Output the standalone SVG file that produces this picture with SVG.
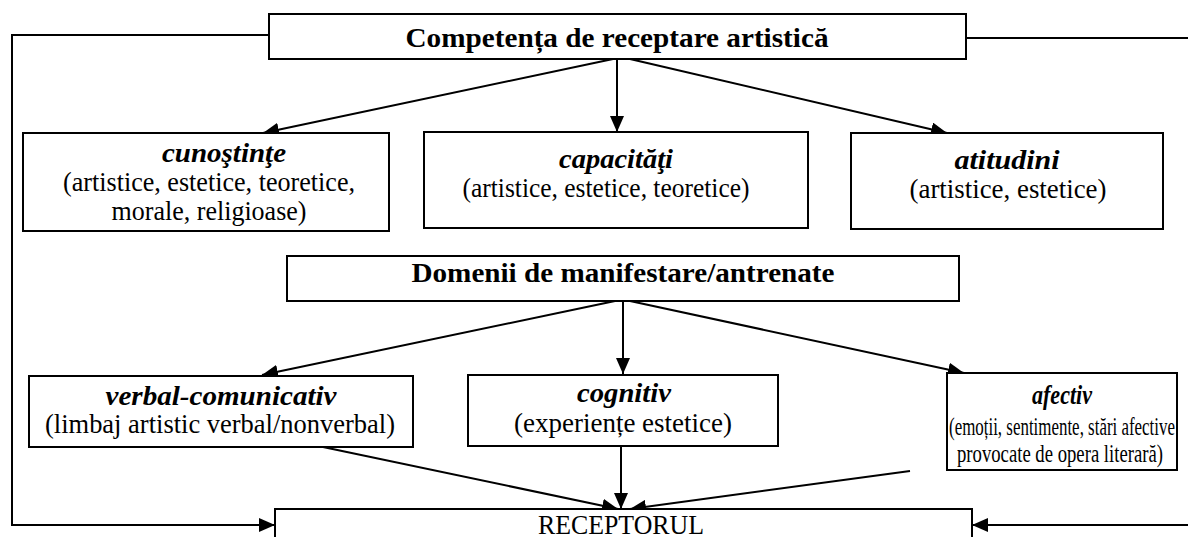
<svg xmlns="http://www.w3.org/2000/svg" width="1188" height="537" viewBox="0 0 1188 537">
<defs>
<marker id="ah" viewBox="0 0 16 14" refX="16" refY="7" markerWidth="16" markerHeight="14" markerUnits="userSpaceOnUse" orient="auto">
<path d="M0,0 L16,7 L0,14 Z" fill="#000"/>
</marker>
</defs>
<style>
.box{fill:#fff;stroke:#000;stroke-width:2}
.ln{fill:none;stroke:#000;stroke-width:2}
.ar{fill:none;stroke:#000;stroke-width:2;marker-end:url(#ah)}
text{font-family:"Liberation Serif","Times New Roman",serif;fill:#000;text-anchor:middle}
.t{font-size:28px;font-weight:bold}
.h{font-size:28px;font-weight:bold;font-style:italic}
.b{font-size:27px}
.s{font-size:25px}
</style>
<rect width="1188" height="537" fill="#fff"/>
<g id="connectors">
<polyline class="ln" points="269,35 12,35 12,525 258,525"/>
<line class="ar" x1="12" y1="525" x2="275" y2="525"/>
<line class="ln" x1="966" y1="38" x2="1188" y2="38"/>
<line class="ar" x1="1188" y1="525" x2="972" y2="525"/>
<line class="ar" x1="613" y1="59" x2="263" y2="133"/>
<line class="ar" x1="617" y1="59" x2="617" y2="132"/>
<line class="ar" x1="630" y1="59" x2="947" y2="133"/>
<line class="ar" x1="615" y1="301" x2="262" y2="375"/>
<line class="ar" x1="623" y1="301" x2="623" y2="374"/>
<line class="ar" x1="630" y1="301" x2="964" y2="373"/>
<line class="ar" x1="323" y1="447" x2="618" y2="509"/>
<line class="ar" x1="621" y1="446" x2="621" y2="509"/>
<line class="ar" x1="910" y1="471" x2="630" y2="509"/>
</g>
<g id="competenta">
<rect class="box" x="269" y="14" width="697" height="45"/>
<text class="t" x="617" y="47" textLength="423" lengthAdjust="spacingAndGlyphs">Competența de receptare artistică</text>
</g>
<g id="cunostinte">
<rect class="box" x="23" y="133" width="366" height="98"/>
<text class="h" x="224" y="162" textLength="124" lengthAdjust="spacingAndGlyphs">cunoştinţe</text>
<text class="b" x="209" y="191" textLength="292" lengthAdjust="spacingAndGlyphs">(artistice, estetice, teoretice,</text>
<text class="b" x="209" y="220" textLength="195" lengthAdjust="spacingAndGlyphs">morale, religioase)</text>
</g>
<g id="capacitati">
<rect class="box" x="424" y="132" width="384" height="96"/>
<text class="h" x="616" y="168" textLength="114" lengthAdjust="spacingAndGlyphs">capacităţi</text>
<text class="b" x="606" y="197" textLength="287" lengthAdjust="spacingAndGlyphs">(artistice, estetice, teoretice)</text>
</g>
<g id="atitudini">
<rect class="box" x="851" y="133" width="312" height="96"/>
<text class="h" x="1007" y="169" textLength="105" lengthAdjust="spacingAndGlyphs">atitudini</text>
<text class="b" x="1008" y="198" textLength="197" lengthAdjust="spacingAndGlyphs">(artistice, estetice)</text>
</g>
<g id="domenii">
<rect class="box" x="287" y="256" width="672" height="45"/>
<text class="t" x="623" y="282" textLength="423" lengthAdjust="spacingAndGlyphs">Domenii de manifestare/antrenate</text>
</g>
<g id="verbal">
<rect class="box" x="29" y="376" width="384" height="71"/>
<text class="h" x="221" y="405" textLength="231" lengthAdjust="spacingAndGlyphs">verbal-comunicativ</text>
<text class="b" x="220" y="433" textLength="350" lengthAdjust="spacingAndGlyphs">(limbaj artistic verbal/nonverbal)</text>
</g>
<g id="cognitiv">
<rect class="box" x="468" y="375" width="310" height="71"/>
<text class="h" x="624" y="402" textLength="94" lengthAdjust="spacingAndGlyphs">cognitiv</text>
<text class="b" x="623" y="432" textLength="218" lengthAdjust="spacingAndGlyphs">(experiențe estetice)</text>
</g>
<g id="afectiv">
<rect class="box" x="947" y="373" width="230" height="97"/>
<text class="h" x="1062" y="404" textLength="60" lengthAdjust="spacingAndGlyphs">afectiv</text>
<text class="s" x="1062" y="435" textLength="226" lengthAdjust="spacingAndGlyphs">(emoții, sentimente, stări afective</text>
<text class="s" x="1060" y="462" textLength="206" lengthAdjust="spacingAndGlyphs">provocate de opera literară)</text>
</g>
<g id="receptorul">
<rect class="box" x="275" y="509" width="697" height="60"/>
<text class="b" x="621" y="534" textLength="166" lengthAdjust="spacingAndGlyphs">RECEPTORUL</text>
</g>
</svg>
